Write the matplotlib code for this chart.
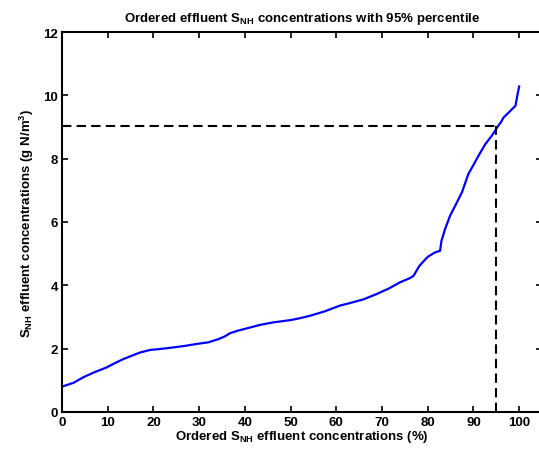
import matplotlib
matplotlib.use("Agg")
import matplotlib.pyplot as plt

plt.rcParams['font.family'] = ['Liberation Sans', 'DejaVu Sans']
plt.rcParams['font.weight'] = 'bold'
plt.rcParams['mathtext.fontset'] = 'custom'
plt.rcParams['mathtext.rm'] = 'Liberation Sans:bold'
plt.rcParams['mathtext.it'] = 'Liberation Sans:bold'
plt.rcParams['mathtext.bf'] = 'Liberation Sans:bold'
plt.rcParams['mathtext.default'] = 'rm'

# Ordered concentrations (percent of samples vs value)
pct = [0, 1.0, 2.5, 4.7, 7.0, 9.8, 11.5, 13.4, 15.5, 17.1, 19.3, 21.5, 24.4, 27.0,
       29.5, 32.0, 34.2, 35.5, 36.8, 38.5, 40.4, 43.3, 46.2, 49.9, 52.0, 54.3,
       57.5, 60.8, 63.5, 66.0, 68.9, 71.5, 74.0, 76.0, 76.9, 78.2, 80.0, 81.6,
       82.7, 83.0, 83.8, 84.9, 86.0, 87.5, 88.9, 90.0, 91.1, 92.6, 94.0, 95.2,
       96.0, 96.6, 98.0, 99.2, 99.6, 100.0]
conc = [0.80, 0.85, 0.92, 1.10, 1.25, 1.41, 1.54, 1.67, 1.79, 1.88, 1.96, 1.99, 2.04, 2.09,
        2.15, 2.20, 2.30, 2.38, 2.49, 2.57, 2.64, 2.75, 2.83, 2.90, 2.96, 3.04,
        3.18, 3.36, 3.46, 3.56, 3.73, 3.90, 4.10, 4.22, 4.30, 4.62, 4.90, 5.04,
        5.09, 5.40, 5.78, 6.20, 6.51, 6.94, 7.52, 7.80, 8.09, 8.46, 8.72, 8.99,
        9.15, 9.30, 9.50, 9.67, 9.99, 10.28]
p95_x = 95
p95_y = 9.03

xticks = list(range(0, 101, 10))
yticks = list(range(0, 13, 2))

fig = plt.figure(figsize=(5.39, 4.56), dpi=100)
ax = fig.add_axes([62/539, 43/456, 480/539, 380/456])

ax.plot(pct, conc, color='#0000ff', lw=1.6)
ax.plot([0, p95_x], [p95_y, p95_y], color='black', lw=1.5, linestyle=(0, (4.5, 2.5)))
ax.plot([p95_x, p95_x], [0, p95_y], color='black', lw=1.5, linestyle=(0, (4.5, 2.5)))

ax.set_xlim(0, 105)
ax.set_ylim(0, 12)
ax.set_xticks(xticks)
ax.set_yticks(yticks)
ax.tick_params(direction='in', top=True, right=True, length=4, width=1.2,
               labelsize=9.5, pad=3)
for lab in ax.get_xticklabels() + ax.get_yticklabels():
    lab.set_fontweight('bold')
for s in ax.spines.values():
    s.set_linewidth(1.5)

ax.set_title(r'Ordered effluent S$_{NH}$ concentrations with 95% percentile',
             fontsize=9.5, fontweight='bold', pad=8)
ax.set_xlabel(r'Ordered S$_{NH}$ effluent concentrations (%)', fontsize=9.5,
              fontweight='bold', labelpad=0)
ax.set_ylabel(r'S$_{NH}$ effluent concentrations (g N/m$^3$)', fontsize=9.5,
              fontweight='bold', labelpad=5)

fig.savefig('out.png', dpi=100)
